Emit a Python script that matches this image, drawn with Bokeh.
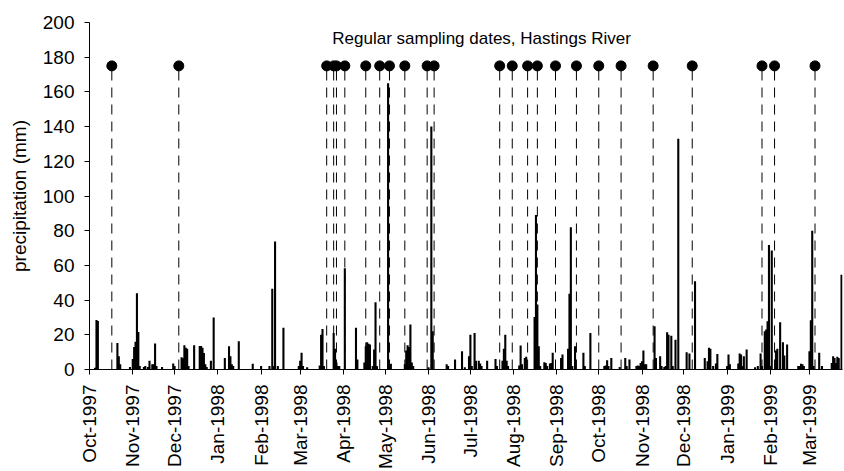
import numpy as np
import pandas as pd
from bokeh.plotting import figure
from bokeh.models import (ColumnDataSource, Range1d, DatetimeTickFormatter,
                          MonthsTicker, FixedTicker, Label)
from bokeh.embed import file_html
from bokeh.resources import INLINE

# ---------------- data ----------------
start_date = "1997-10-01"
end_day = 539.7  # last day shown, counted from start_date

# daily precipitation: day number since 1 Oct 1997, and amount (mm)
rain_day = [4, 5, 6, 20, 21, 22, 29, 31, 32, 33, 34, 35, 36, 39, 40, 42, 43, 45, 46, 47, 48,
            52, 60, 61, 66, 67, 68, 69, 70, 71, 75, 79, 80, 81, 82, 83, 84, 87, 89,
            97, 100, 101, 102, 103, 107, 117, 123, 129, 131, 132, 133, 135, 139,
            150, 151, 152, 153, 156, 165, 166, 167, 168, 175, 176, 177, 178, 179,
            183, 191, 192, 197, 198, 199, 200, 201, 203, 204, 205, 206, 214, 215, 216,
            226, 227, 228, 229, 230, 231, 232, 243, 245, 246, 256, 257, 262, 267,
            269, 272, 273, 274, 276, 277, 279, 280, 281, 285, 291, 292, 296, 297, 298, 299, 300,
            308, 309, 310, 312, 313, 319, 320, 321, 322, 323, 326, 327, 328, 330, 331, 332,
            338, 339, 343, 344, 345, 346, 348, 354, 355, 359,
            369, 370, 371, 372, 374, 380, 384, 385, 387, 392, 393, 394, 395, 396, 397, 398, 399,
            405, 406, 409, 410, 412, 413, 414, 415, 417, 418, 420, 422, 428, 430, 434,
            441, 443, 444, 445, 447, 449, 450, 457, 458, 459, 465, 466, 467, 468, 469, 471,
            477, 479, 481, 482, 484, 485, 486, 487, 488, 489, 492, 493, 495, 497, 498, 500,
            508, 509, 510, 511, 512, 516, 517, 518, 519, 523, 525,
            532, 533, 534, 535, 536, 537, 539]
rain_mm = [1, 28.5, 28, 15.3, 7.7, 3, 1.5, 6, 13, 16, 44, 21.6, 2, 1.5, 2, 1.5, 5, 3, 3, 15, 2,
           1.5, 3.5, 2, 7, 6.5, 14, 12.5, 12, 2, 14, 13.5, 13.5, 12.5, 9.5, 3, 1.5, 5, 30,
           6.7, 13.4, 7.7, 3, 2, 16.3, 3.3, 2, 2, 46.5, 2, 73.8, 2, 24,
           2, 5, 9.6, 2, 1.3, 2.3, 20, 23.4, 2, 21, 12, 4, 2, 2,
           58.4, 24, 5.7, 4, 13.4, 15.7, 14.8, 14.4, 2, 11.5, 38.7, 2, 165, 3, 3.3,
           3, 11, 14, 13, 26, 4, 2, 1.3, 140, 22, 3, 2, 5.7, 10.5,
           1.3, 7.7, 20, 2, 21, 5, 5, 3.4, 2, 5, 6, 2, 5, 12, 20, 5, 2,
           2.3, 13.8, 3, 6.7, 7.3, 30.3, 89, 37.4, 13.4, 2, 4.2, 3.8, 2, 3.4, 3.8, 9.6,
           6.7, 8.6, 12, 43.7, 82, 2, 13.4, 9.6, 2, 21,
           2, 2.3, 5.4, 2, 6.7, 1.5, 6.7, 2, 5.7, 2, 2.3, 2, 3.8, 4.8, 11, 3, 3,
           25, 6.7, 7.7, 2, 1.5, 2, 21.5, 20, 19.5, 2, 17.2, 133, 10, 9.2, 50.8,
           6.7, 4.8, 12.5, 12, 2, 3.4, 9, 2, 8.6, 3, 3.4, 9.2, 8.6, 2, 7.7, 11.5,
           1.3, 2, 9.2, 2, 22, 23, 27.8, 71.8, 2, 68.6, 11, 12, 27.2, 15.7, 8, 14.4,
           2, 2, 3.3, 3, 2, 10.5, 28.4, 80, 2, 9.6, 2,
           3.8, 7.7, 6.7, 3.8, 7.3, 6.7, 54.6]

sampling_dates = ["1997-10-17", "1997-12-04", "1998-03-20", "1998-03-25", "1998-03-27",
                  "1998-04-02", "1998-04-17", "1998-04-27", "1998-05-04", "1998-05-15",
                  "1998-05-31", "1998-06-05", "1998-07-22", "1998-07-31", "1998-08-11",
                  "1998-08-18", "1998-08-31", "1998-09-15", "1998-10-01", "1998-10-17",
                  "1998-11-09", "1998-12-07", "1999-01-26", "1999-02-04", "1999-03-05"]
sample_marker_level = 175

y_ticks = [0, 20, 40, 60, 80, 100, 120, 140, 160, 180, 200]
y_label = "precipitation (mm)"
note_text = "Regular sampling dates, Hastings River"
note_date = "1998-07-09"
note_level = 191

# ---------------- plot ----------------
FONT = "Liberation Sans"
base = pd.Timestamp(start_date)
rain_src = ColumnDataSource(dict(
    x=(base + pd.to_timedelta(rain_day, unit="D")).to_pydatetime(),
    top=rain_mm))
samp_x = pd.to_datetime(sampling_dates).to_pydatetime()
samp_src = ColumnDataSource(dict(x=samp_x,
                                 y0=[0] * len(samp_x),
                                 y1=[sample_marker_level] * len(samp_x)))

p = figure(width=844, height=471, x_axis_type="datetime",
           output_backend="svg", toolbar_location=None,
           x_range=Range1d(base.to_pydatetime(),
                           (base + pd.Timedelta(days=end_day)).to_pydatetime()),
           y_range=Range1d(y_ticks[0], y_ticks[-1]),
           min_border_left=89, min_border_top=22, min_border_right=2,
           min_border_bottom=101)
p.outline_line_color = None
p.xgrid.visible = False
p.ygrid.visible = False
p.background_fill_color = "white"
p.border_fill_color = "white"

p.vbar(x="x", top="top", width=86400000 * 1.5, fill_color="black",
       line_color=None, source=rain_src)
p.segment(x0="x", y0="y0", x1="x", y1="y1", source=samp_src,
          line_color="black", line_width=1, line_dash="10 7")
p.scatter(x="x", y="y1", source=samp_src, size=10, fill_color="black",
          line_color="black")

p.add_layout(Label(x=pd.Timestamp(note_date).value // 10**6, y=note_level,
                   text=note_text, text_align="center", text_baseline="middle",
                   text_font=FONT, text_font_size="17px", text_color="black"))

# axes
p.yaxis.ticker = FixedTicker(ticks=y_ticks)
p.yaxis.axis_label = y_label
p.xaxis.ticker = MonthsTicker(months=list(range(12)))
p.xaxis.formatter = DatetimeTickFormatter(months="%b-%Y", days="%b-%Y",
                                          years="%b-%Y")
p.xaxis.major_label_orientation = np.pi / 2

for ax in (p.xaxis, p.yaxis):
    ax.axis_line_color = "black"
    ax.axis_line_width = 1
    ax.major_tick_line_color = "black"
    ax.major_tick_in = 0
    ax.major_tick_out = 5
    ax.minor_tick_line_color = None
    ax.major_label_text_font = FONT
    ax.major_label_text_font_size = "19px"
    ax.major_label_text_color = "black"
    ax.axis_label_text_font = FONT
    ax.axis_label_text_font_size = "19px"
    ax.axis_label_text_font_style = "normal"
    ax.axis_label_text_color = "black"
p.yaxis.major_label_standoff = 10
p.yaxis.axis_label_standoff = 10
p.xaxis.major_label_standoff = 10

open("out.html", "w").write(file_html(p, INLINE))
